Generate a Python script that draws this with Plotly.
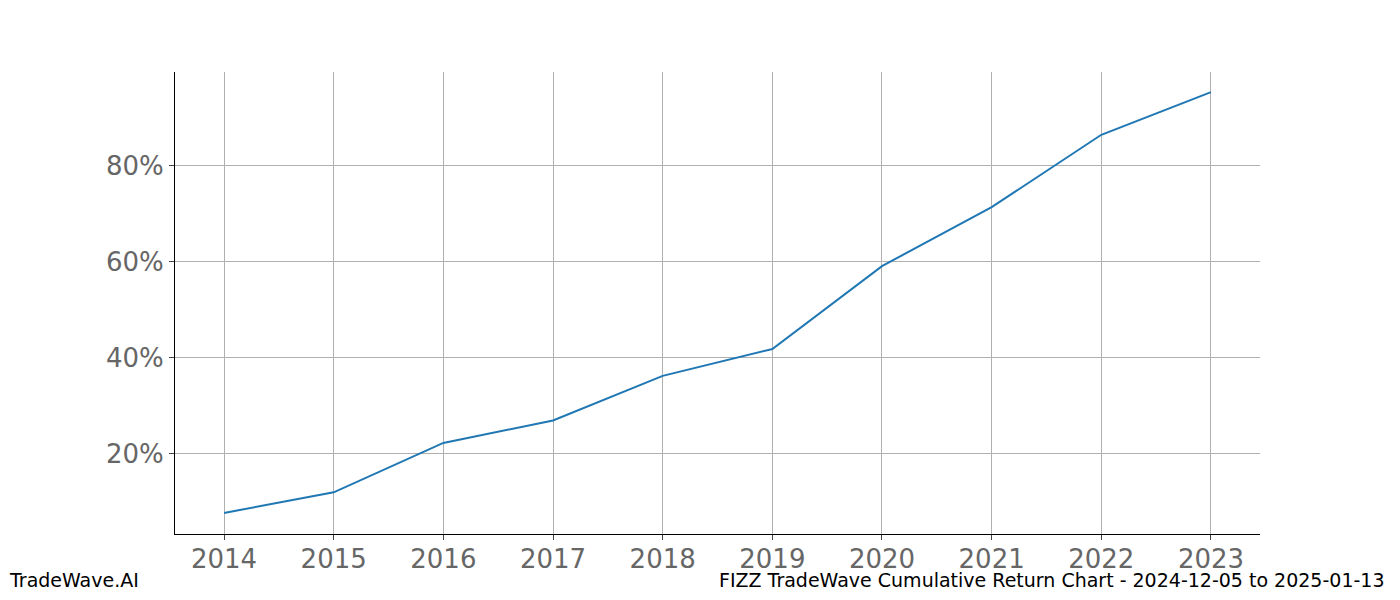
import plotly.graph_objects as go

years = [2014, 2015, 2016, 2017, 2018, 2019, 2020, 2021, 2022, 2023]
returns = [7.6, 11.9, 22.2, 26.9, 36.2, 41.8, 59.1, 71.4, 86.5, 95.4]
y_ticks = [20, 40, 60, 80]

fig = go.Figure(go.Scatter(x=years, y=returns, mode="lines",
                           line=dict(color="#1f77b4", width=2)))
fig.update_layout(
    width=1384, height=584, plot_bgcolor="white", paper_bgcolor="white",
    margin=dict(l=167, r=132, t=64, b=58), showlegend=False,
    font=dict(family="DejaVu Sans"),
)
fig.update_xaxes(range=[2014 - 0.447, 2023 + 0.447], tickvals=years,
                 showgrid=True, gridcolor="#b0b0b0", gridwidth=0.8,
                 showline=True, linecolor="black", ticks="outside", ticklen=5,
                 ticklabelstandoff=-3,
                 tickfont=dict(size=26, color="#666666"))
fig.update_yaxes(range=[3.2, 99.6], tickvals=y_ticks,
                 ticktext=[f"{v}%" for v in y_ticks],
                 showgrid=True, gridcolor="#b0b0b0", gridwidth=0.8,
                 showline=True, linecolor="black", ticks="outside", ticklen=5,
                 tickfont=dict(size=26, color="#666666"), zeroline=False)
fig.add_annotation(text="TradeWave.AI", xref="paper", yref="paper",
                   x=0, y=0, xshift=-168, yshift=-59, xanchor="left", yanchor="bottom",
                   showarrow=False, font=dict(size=19, color="black"))
fig.add_annotation(text="FIZZ TradeWave Cumulative Return Chart - 2024-12-05 to 2025-01-13",
                   xref="paper", yref="paper", x=1, y=0, xshift=127, yshift=-59,
                   xanchor="right", yanchor="bottom", showarrow=False,
                   font=dict(size=19, color="black"))
fig.write_html("out.html")
